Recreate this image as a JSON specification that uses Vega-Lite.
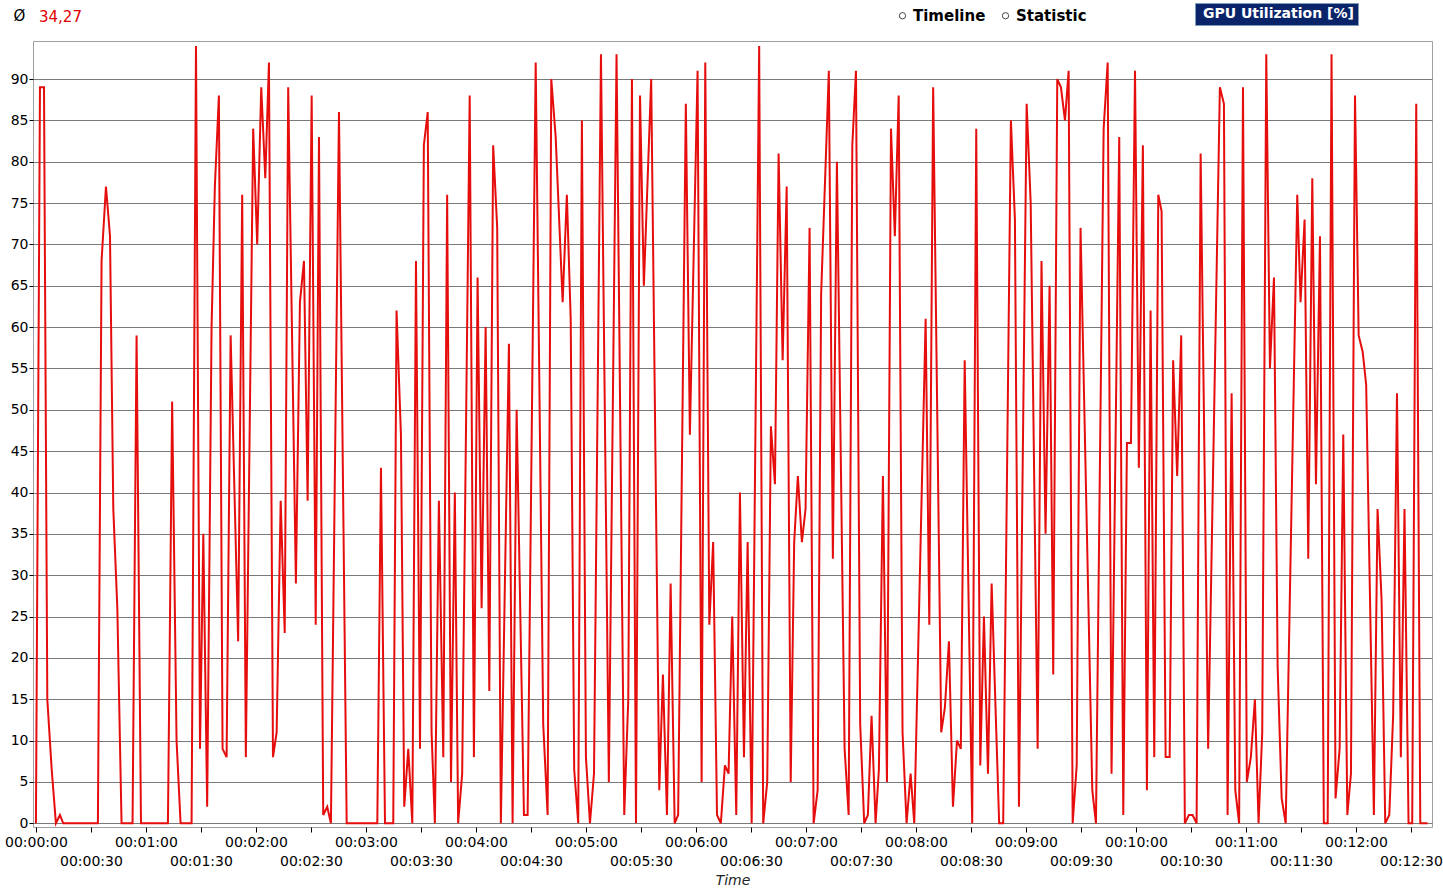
{
  "$schema": "https://vega.github.io/schema/vega-lite/v6.json",
  "autosize": "none",
  "width": 1399,
  "height": 786,
  "padding": {"left": 33, "top": 41, "right": 11, "bottom": 68},
  "background": "white",
  "title": {
    "text": "34,27",
    "anchor": "start",
    "frame": "group",
    "dx": 6,
    "offset": -37,
    "baseline": "bottom",
    "color": "#e00000",
    "font": "DejaVu Sans",
    "fontSize": 15,
    "fontWeight": "normal"
  },
  "config": {
    "view": {
      "stroke": "#a0a0a0",
      "fill": {
        "gradient": "linear",
        "x1": 0, "y1": 0, "x2": 0, "y2": 1,
        "stops": [
          {"offset": 0, "color": "#ffffff"},
          {"offset": 0.33, "color": "#ffffff"},
          {"offset": 1, "color": "#d9d9d9"}
        ]
      }
    },
    "font": "DejaVu Sans"
  },
  "layer": [
    {
      "data": {
        "values": [
          {"t": 0, "v": 0}, {"t": 2.2, "v": 89}, {"t": 4.4, "v": 89}, {"t": 6.2, "v": 15}, {"t": 8.6, "v": 6.5},
          {"t": 10.9, "v": 0}, {"t": 13.1, "v": 1}, {"t": 14.9, "v": 0}, {"t": 33.8, "v": 0}, {"t": 35.8, "v": 68},
          {"t": 38.2, "v": 77}, {"t": 40.4, "v": 71}, {"t": 42.2, "v": 38}, {"t": 44.4, "v": 26}, {"t": 46.7, "v": 0},
          {"t": 52.7, "v": 0}, {"t": 54.9, "v": 59}, {"t": 57.3, "v": 0}, {"t": 72.0, "v": 0}, {"t": 74.3, "v": 51},
          {"t": 76.7, "v": 10}, {"t": 78.9, "v": 0}, {"t": 84.9, "v": 0}, {"t": 87.3, "v": 94}, {"t": 89.5, "v": 9},
          {"t": 91.3, "v": 35}, {"t": 93.4, "v": 2}, {"t": 95.8, "v": 60}, {"t": 97.6, "v": 77}, {"t": 99.8, "v": 88},
          {"t": 101.8, "v": 9}, {"t": 104.0, "v": 8}, {"t": 106.2, "v": 59}, {"t": 110.3, "v": 22}, {"t": 112.5, "v": 76},
          {"t": 114.5, "v": 8}, {"t": 118.5, "v": 84}, {"t": 120.7, "v": 70}, {"t": 122.9, "v": 89}, {"t": 125.1, "v": 78},
          {"t": 127.1, "v": 92}, {"t": 129.3, "v": 8}, {"t": 131.3, "v": 11}, {"t": 133.5, "v": 39}, {"t": 135.7, "v": 23},
          {"t": 137.6, "v": 89}, {"t": 141.8, "v": 29}, {"t": 144.0, "v": 63}, {"t": 146.2, "v": 68}, {"t": 148.2, "v": 39},
          {"t": 150.4, "v": 88}, {"t": 152.6, "v": 24}, {"t": 154.4, "v": 83}, {"t": 156.7, "v": 1}, {"t": 158.9, "v": 2},
          {"t": 160.9, "v": 0}, {"t": 165.3, "v": 86}, {"t": 169.5, "v": 0}, {"t": 186.2, "v": 0}, {"t": 188.2, "v": 43},
          {"t": 190.4, "v": 0}, {"t": 194.9, "v": 0}, {"t": 196.7, "v": 62}, {"t": 199.1, "v": 47}, {"t": 200.9, "v": 2},
          {"t": 203.1, "v": 9}, {"t": 205.3, "v": 0}, {"t": 207.3, "v": 68}, {"t": 209.5, "v": 9}, {"t": 211.6, "v": 82},
          {"t": 213.7, "v": 86}, {"t": 215.8, "v": 11}, {"t": 217.6, "v": 0}, {"t": 219.8, "v": 39}, {"t": 222.2, "v": 8},
          {"t": 224.3, "v": 76}, {"t": 226.4, "v": 5}, {"t": 228.5, "v": 40}, {"t": 230.3, "v": 0}, {"t": 232.5, "v": 6},
          {"t": 236.6, "v": 88}, {"t": 238.9, "v": 8}, {"t": 240.9, "v": 66}, {"t": 243.1, "v": 26}, {"t": 245.3, "v": 60},
          {"t": 247.3, "v": 16}, {"t": 249.4, "v": 82}, {"t": 251.6, "v": 72}, {"t": 253.6, "v": 0}, {"t": 258.0, "v": 58},
          {"t": 260.0, "v": 0}, {"t": 262.2, "v": 50}, {"t": 266.2, "v": 1}, {"t": 268.2, "v": 1}, {"t": 272.6, "v": 92},
          {"t": 276.7, "v": 12}, {"t": 279.1, "v": 1}, {"t": 281.1, "v": 90}, {"t": 283.5, "v": 83}, {"t": 287.3, "v": 63},
          {"t": 289.6, "v": 76}, {"t": 291.7, "v": 61}, {"t": 293.6, "v": 6.5}, {"t": 295.8, "v": 0}, {"t": 297.8, "v": 85},
          {"t": 300.0, "v": 8}, {"t": 302.2, "v": 0}, {"t": 304.4, "v": 6}, {"t": 308.2, "v": 93}, {"t": 312.5, "v": 5},
          {"t": 316.7, "v": 93}, {"t": 320.9, "v": 1}, {"t": 323.1, "v": 15}, {"t": 325.1, "v": 90}, {"t": 327.3, "v": 0},
          {"t": 329.5, "v": 88}, {"t": 331.6, "v": 65}, {"t": 335.6, "v": 90}, {"t": 340.0, "v": 4}, {"t": 342.0, "v": 18},
          {"t": 344.2, "v": 1}, {"t": 346.2, "v": 29}, {"t": 348.4, "v": 0}, {"t": 350.3, "v": 1}, {"t": 354.5, "v": 87},
          {"t": 356.7, "v": 47}, {"t": 360.9, "v": 91}, {"t": 363.1, "v": 5}, {"t": 365.1, "v": 92}, {"t": 367.3, "v": 24},
          {"t": 369.4, "v": 34}, {"t": 371.5, "v": 1}, {"t": 373.6, "v": 0}, {"t": 375.8, "v": 7}, {"t": 377.8, "v": 6},
          {"t": 379.8, "v": 25}, {"t": 382.0, "v": 1}, {"t": 384.0, "v": 40}, {"t": 386.2, "v": 8}, {"t": 388.2, "v": 34},
          {"t": 390.4, "v": 0}, {"t": 394.5, "v": 94}, {"t": 396.7, "v": 0}, {"t": 398.9, "v": 5}, {"t": 400.9, "v": 48},
          {"t": 403.1, "v": 41}, {"t": 405.1, "v": 81}, {"t": 407.3, "v": 56}, {"t": 409.5, "v": 77}, {"t": 411.7, "v": 5},
          {"t": 413.6, "v": 34}, {"t": 415.6, "v": 42}, {"t": 417.8, "v": 34}, {"t": 419.8, "v": 38}, {"t": 422.0, "v": 72},
          {"t": 424.2, "v": 0}, {"t": 426.4, "v": 4}, {"t": 428.3, "v": 64}, {"t": 432.5, "v": 91}, {"t": 434.7, "v": 32},
          {"t": 436.9, "v": 80}, {"t": 441.1, "v": 9}, {"t": 443.3, "v": 1}, {"t": 445.3, "v": 82}, {"t": 447.3, "v": 91},
          {"t": 449.6, "v": 12}, {"t": 451.8, "v": 0}, {"t": 453.8, "v": 1}, {"t": 455.8, "v": 13}, {"t": 458.0, "v": 0},
          {"t": 459.8, "v": 6.5}, {"t": 462.0, "v": 42}, {"t": 464.2, "v": 5}, {"t": 466.4, "v": 84}, {"t": 468.5, "v": 71},
          {"t": 470.6, "v": 88}, {"t": 472.7, "v": 11}, {"t": 474.9, "v": 0}, {"t": 477.1, "v": 6}, {"t": 479.1, "v": 0},
          {"t": 485.3, "v": 61}, {"t": 487.3, "v": 24}, {"t": 489.4, "v": 89}, {"t": 493.8, "v": 11}, {"t": 495.8, "v": 14},
          {"t": 498.0, "v": 22}, {"t": 500.2, "v": 2}, {"t": 502.4, "v": 10}, {"t": 504.5, "v": 9}, {"t": 506.6, "v": 56},
          {"t": 510.7, "v": 0}, {"t": 512.9, "v": 84}, {"t": 515.1, "v": 7}, {"t": 517.1, "v": 25}, {"t": 519.3, "v": 6},
          {"t": 521.3, "v": 29}, {"t": 525.4, "v": 0}, {"t": 527.6, "v": 0}, {"t": 531.8, "v": 85}, {"t": 534.0, "v": 73},
          {"t": 536.2, "v": 2}, {"t": 540.4, "v": 87}, {"t": 542.6, "v": 75}, {"t": 546.4, "v": 9}, {"t": 548.5, "v": 68},
          {"t": 550.7, "v": 35}, {"t": 552.9, "v": 65}, {"t": 554.9, "v": 18}, {"t": 557.1, "v": 90}, {"t": 559.1, "v": 89},
          {"t": 561.3, "v": 85}, {"t": 563.3, "v": 91}, {"t": 565.5, "v": 0}, {"t": 567.7, "v": 7}, {"t": 569.8, "v": 72},
          {"t": 576.2, "v": 4}, {"t": 578.2, "v": 0}, {"t": 582.4, "v": 84}, {"t": 584.6, "v": 92}, {"t": 586.7, "v": 6},
          {"t": 590.9, "v": 83}, {"t": 593.1, "v": 1}, {"t": 595.1, "v": 46}, {"t": 597.3, "v": 46}, {"t": 599.5, "v": 91},
          {"t": 601.6, "v": 43}, {"t": 603.8, "v": 82}, {"t": 606.0, "v": 4}, {"t": 608.0, "v": 62}, {"t": 610.0, "v": 8},
          {"t": 612.2, "v": 76}, {"t": 614.0, "v": 74}, {"t": 616.2, "v": 8}, {"t": 618.4, "v": 8}, {"t": 620.3, "v": 56},
          {"t": 622.5, "v": 42}, {"t": 624.7, "v": 59}, {"t": 626.7, "v": 0}, {"t": 628.9, "v": 1}, {"t": 630.9, "v": 1},
          {"t": 633.1, "v": 0}, {"t": 635.3, "v": 81}, {"t": 639.4, "v": 9}, {"t": 645.8, "v": 89}, {"t": 648.0, "v": 87},
          {"t": 650.0, "v": 1}, {"t": 652.2, "v": 52}, {"t": 654.2, "v": 4}, {"t": 656.3, "v": 0}, {"t": 658.4, "v": 89},
          {"t": 660.5, "v": 5}, {"t": 662.7, "v": 8}, {"t": 664.9, "v": 15}, {"t": 666.9, "v": 0}, {"t": 668.9, "v": 11},
          {"t": 671.1, "v": 93}, {"t": 673.1, "v": 55}, {"t": 675.3, "v": 66}, {"t": 677.3, "v": 19}, {"t": 679.5, "v": 3},
          {"t": 681.7, "v": 0}, {"t": 688.0, "v": 76}, {"t": 689.8, "v": 63}, {"t": 692.0, "v": 73}, {"t": 694.0, "v": 32},
          {"t": 696.2, "v": 78}, {"t": 698.2, "v": 41}, {"t": 700.4, "v": 71}, {"t": 702.5, "v": 0}, {"t": 704.6, "v": 0},
          {"t": 706.7, "v": 93}, {"t": 708.9, "v": 3}, {"t": 711.1, "v": 9}, {"t": 713.1, "v": 47}, {"t": 715.3, "v": 1},
          {"t": 717.3, "v": 6}, {"t": 719.5, "v": 88}, {"t": 721.5, "v": 59}, {"t": 723.7, "v": 57}, {"t": 725.6, "v": 53},
          {"t": 729.8, "v": 1}, {"t": 731.8, "v": 38}, {"t": 734.0, "v": 27}, {"t": 736.0, "v": 0}, {"t": 738.2, "v": 1},
          {"t": 740.3, "v": 13}, {"t": 742.4, "v": 52}, {"t": 744.5, "v": 8}, {"t": 746.5, "v": 38}, {"t": 748.7, "v": 0},
          {"t": 750.7, "v": 0}, {"t": 752.9, "v": 87}, {"t": 755.1, "v": 0}, {"t": 759.1, "v": 0}
        ]
      },
      "mark": {"type": "line", "strokeWidth": 2, "interpolate": "linear"},
      "encoding": {
        "x": {
          "field": "t",
          "type": "quantitative",
          "scale": {"domain": [-1.6, 761.5], "nice": false, "zero": false},
          "axis": {
            "values": [0, 30, 60, 90, 120, 150, 180, 210, 240, 270, 300, 330, 360, 390, 420, 450, 480, 510, 540, 570, 600, 630, 660, 690, 720, 750],
            "labelExpr": "(datum.value % 60 == 0) ? '00:' + (datum.value < 600 ? '0' : '') + floor(datum.value / 60) + ':00' : ['', '00:' + (datum.value < 600 ? '0' : '') + floor(datum.value / 60) + ':30']",
            "labelLineHeight": 19,
            "labelFont": "DejaVu Sans",
            "labelFontSize": 14,
            "labelColor": "#000000",
            "labelPadding": 3,
            "labelOverlap": false,
            "labelFlush": false,
            "tickSize": 5,
            "tickColor": "#000000",
            "domain": false,
            "grid": false,
            "title": "Time",
            "titleFont": "DejaVu Sans",
            "titleFontSize": 14,
            "titleFontStyle": "italic",
            "titleFontWeight": "normal",
            "titleColor": "#222222",
            "titlePadding": 5
          }
        },
        "y": {
          "field": "v",
          "type": "quantitative",
          "scale": {"domain": [-0.45, 94.6], "nice": false, "zero": false},
          "axis": {
            "values": [0, 5, 10, 15, 20, 25, 30, 35, 40, 45, 50, 55, 60, 65, 70, 75, 80, 85, 90],
            "labelFont": "DejaVu Sans",
            "labelFontSize": 14,
            "labelColor": "#000000",
            "labelPadding": 1,
            "tickSize": 4,
            "tickColor": "#000000",
            "domain": false,
            "grid": true,
            "gridColor": "#7a7a7a",
            "gridWidth": 1,
            "gridOpacity": 1,
            "title": "Ø",
            "titleAngle": 0,
            "titleX": -14,
            "titleY": -26,
            "titleAlign": "center",
            "titleBaseline": "middle",
            "titleFont": "DejaVu Sans",
            "titleFontSize": 15,
            "titleFontWeight": "normal",
            "titleColor": "#000000"
          }
        },
        "color": {
          "datum": "GPU Utilization [%]",
          "type": "nominal",
          "scale": {"range": ["#e60d0d"]},
          "legend": {
            "orient": "none",
            "legendX": 1162,
            "legendY": -38,
            "title": null,
            "fillColor": "#0a246a",
            "strokeColor": "#7f9db9",
            "padding": 4,
            "symbolSize": 0,
            "symbolOpacity": 0,
            "symbolStrokeWidth": 0,
            "labelOffset": -10,
            "labelColor": "#ffffff",
            "labelFont": "DejaVu Sans",
            "labelFontSize": 14,
            "labelFontWeight": "bold",
            "labelLimit": 400
          }
        }
      }
    },
    {
      "data": {"values": [{"mode": "Timeline"}, {"mode": "Statistic"}]},
      "mark": {"type": "point", "opacity": 0},
      "encoding": {
        "shape": {
          "field": "mode",
          "type": "nominal",
          "scale": {"domain": ["Timeline", "Statistic"], "range": ["circle", "circle"]},
          "legend": {
            "orient": "none",
            "legendX": 862,
            "legendY": -33,
            "direction": "horizontal",
            "title": null,
            "symbolSize": 40,
            "symbolOpacity": 1,
            "symbolFillColor": "#ffffff",
            "symbolStrokeColor": "#444444",
            "symbolStrokeWidth": 1,
            "labelFont": "DejaVu Sans",
            "labelFontSize": 15,
            "labelFontWeight": "bold",
            "labelColor": "#000000",
            "labelOffset": 3,
            "columnPadding": 12
          }
        }
      }
    }
  ]
}
